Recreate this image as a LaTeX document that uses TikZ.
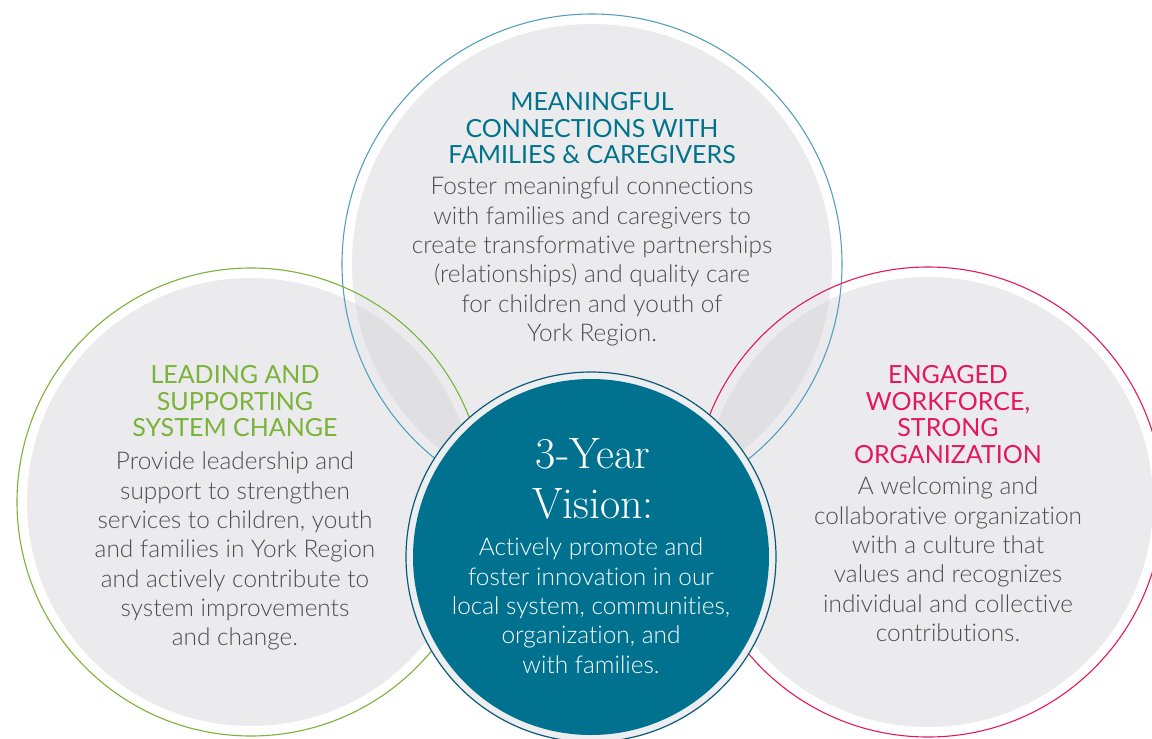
\documentclass[tikz,border=0pt]{standalone}
\usepackage{fontspec}
\usepackage{xcolor}

\newfontfamily\bodyfont{Lato Light}[Ligatures=CommonOff]
\newfontfamily\titlefont{Lato}
\newfontfamily\visionfont{Latin Modern Roman}

\definecolor{discgray}{RGB}{211,211,214}
\definecolor{ringblue}{RGB}{84,160,190}
\definecolor{visionteal}{RGB}{0,114,143}
\definecolor{visionedge}{RGB}{10,90,120}
\definecolor{visionring}{RGB}{236,238,240}
\definecolor{headteal}{RGB}{0,115,140}
\definecolor{headgreen}{RGB}{122,178,58}
\definecolor{headpink}{RGB}{228,24,92}
\definecolor{bodygray}{RGB}{77,77,80}

\newcommand{\headfont}{\titlefont\fontsize{25}{26.7}\selectfont}
\newcommand{\blurbfont}{\bodyfont\fontsize{24.4}{29.3}\selectfont}

\tikzset{
  disc/.style={fill=discgray, fill opacity=0.45},
  rim/.style={line width=1.1pt},
  heading/.style={font=\headfont, align=center, inner sep=0pt, anchor=north},
  blurb/.style={font=\blurbfont, text=bodygray, align=center, inner sep=0pt, anchor=north}
}

\begin{document}
\begin{tikzpicture}[x=1pt,y=-1pt]
    \useasboundingbox (0,0) rectangle (1152,739);
    \clip (0,0) rectangle (1152,739);

    \coordinate (top) at (592,264);
    \coordinate (left) at (251,502);
    \coordinate (right) at (928,502);
    \coordinate (hub) at (591,557);

    % three grey discs
    \fill[disc] (top) circle (240pt);
    \fill[disc] (left) circle (224pt);
    \fill[disc] (right) circle (225pt);

    \draw[rim, ringblue] (top) circle (250pt);
    \draw[rim, headgreen] (left) circle (234pt);
    \draw[rim, headpink] (right) circle (235pt);

    % vision disc in the middle
    \fill[visionring] (hub) circle (185pt);
    \fill[visionteal] (hub) circle (178pt);
    \draw[visionedge, line width=1.2pt] (hub) circle (185pt);

    \node[heading, text=headteal] (connTitle) at (592,92)
      {MEANINGFUL\\CONNECTIONS WITH\\FAMILIES \& CAREGIVERS};
    \node[blurb] (connText) at (592,177)
      {Foster meaningful connections\\with families and caregivers to\\create transformative partnerships\\(relationships) and quality care\\for children and youth of\\York Region.};

    \node[heading, text=headgreen] (leadTitle) at (235,365)
      {LEADING AND\\SUPPORTING\\SYSTEM CHANGE};
    \node[blurb] (leadText) at (235,452)
      {Provide leadership and\\support to strengthen\\services to children, youth\\and families in York Region\\and actively contribute to\\system improvements\\and change.};

    \node[heading, text=headpink] (staffTitle) at (948,365)
      {ENGAGED\\WORKFORCE,\\STRONG\\ORGANIZATION};
    \node[blurb] (staffText) at (948,477)
      {A welcoming and\\collaborative organization\\with a culture that\\values and recognizes\\individual and collective\\contributions.};

    \node[font=\visionfont\fontsize{44}{50}\selectfont, text=white, align=center,
          inner sep=0pt, anchor=north] (visionTitle) at (593,438) {3-Year\\Vision:};
    \node[blurb, text=white] (visionText) at (591,538)
      {Actively promote and\\foster innovation in our\\local system, communities,\\organization, and\\with families.};
\end{tikzpicture}
\end{document}
